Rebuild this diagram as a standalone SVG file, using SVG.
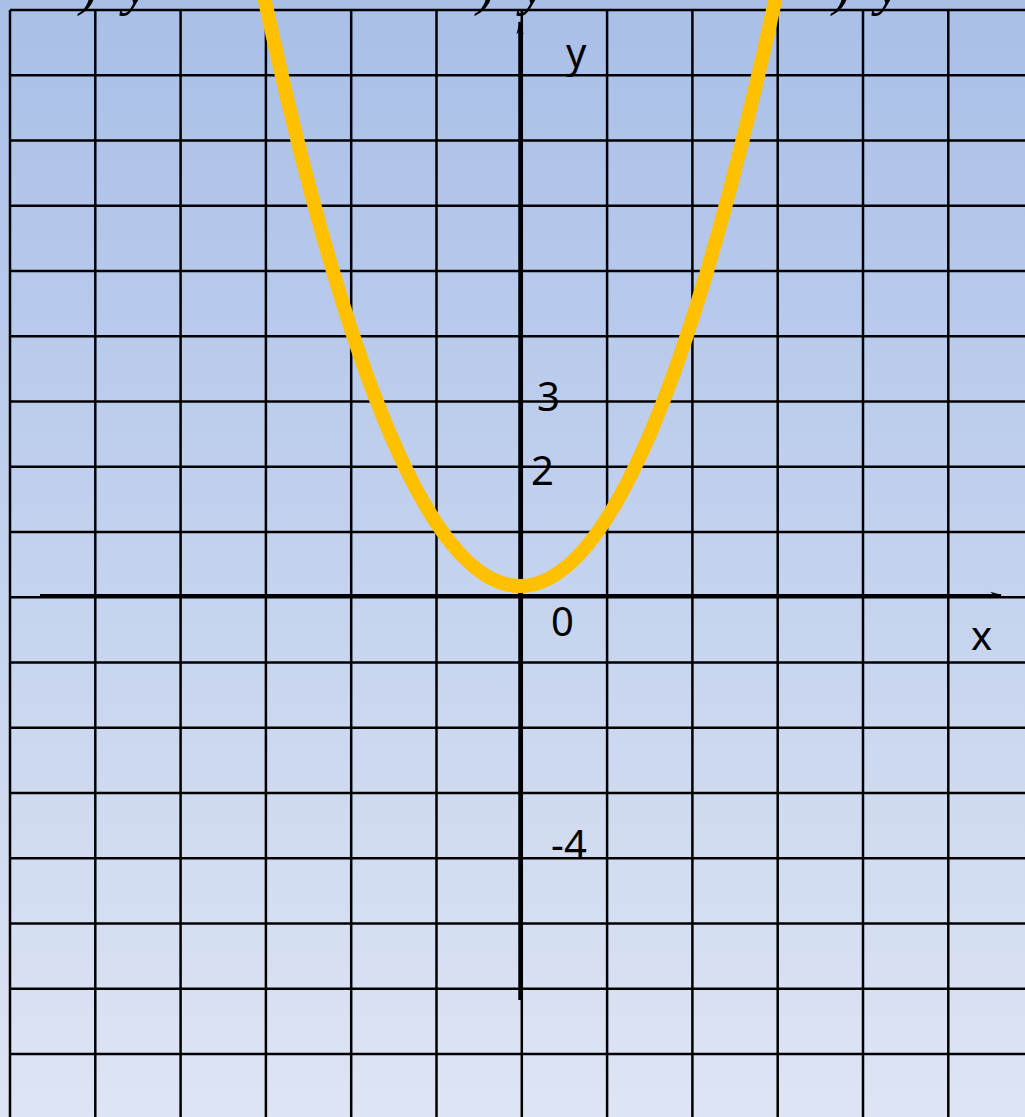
<svg xmlns="http://www.w3.org/2000/svg" width="1025" height="1117" viewBox="0 0 1025 1117">
<defs>
<linearGradient id="bg" x1="0" y1="0" x2="0" y2="1">
<stop offset="0" stop-color="#A9BFE8"/>
<stop offset="1" stop-color="#DEE5F4"/>
</linearGradient>
<marker id="arr" viewBox="0 0 10 10" refX="9" refY="5" markerWidth="12" markerHeight="8" orient="auto" markerUnits="userSpaceOnUse" preserveAspectRatio="none">
<path d="M0,1 L10,5 L0,9 L3,5 Z" fill="#000"/>
</marker>
<marker id="arrY" viewBox="0 0 10 10" refX="9" refY="5" markerWidth="14" markerHeight="9" orient="auto" markerUnits="userSpaceOnUse" preserveAspectRatio="none">
<path d="M0,1 L10,5 L0,9 L3,5 Z" fill="#000"/>
</marker>
</defs>
<style>
.g{stroke:#000;stroke-width:2.5;fill:none}
.lbl{font-family:"Noto Sans","Open Sans",sans-serif;font-size:40px;fill:#000}
.frag{font-family:"Liberation Serif",serif;font-style:italic;font-size:56px;fill:#000}
</style>
<rect x="0" y="0" width="1025" height="1117" fill="url(#bg)"/>
<g id="grid" class="g">
<path d="M10,10V1117M95.3,10V1117M180.6,10V1117M265.9,10V1117M351.2,10V1117M436.5,10V1117M521.8,10V1117M607.1,10V1117M692.4,10V1117M777.7,10V1117M863,10V1117M948.3,10V1117"/>
<path d="M10,10H1025M10,75.25H1025M10,140.5H1025M10,205.75H1025M10,271H1025M10,336.25H1025M10,401.5H1025M10,466.75H1025M10,532H1025M10,597.25H1025M10,662.5H1025M10,727.75H1025M10,793H1025M10,858.25H1025M10,923.5H1025M10,988.75H1025M10,1054H1025"/>
</g>
<g id="fragments">
<text class="frag" x="80" y="4">)</text>
<text class="frag" x="124" y="4">y</text>
<text class="frag" x="477" y="4">)</text>
<text class="frag" x="521" y="4">y</text>
<text class="frag" x="833" y="4">)</text>
<text class="frag" x="876" y="4">y</text>
</g>
<g id="axes">
<line id="x-axis" x1="40" y1="595" x2="1001" y2="595" stroke="#000" stroke-width="2" marker-end="url(#arr)"/>
<line id="y-axis" x1="520" y1="1000" x2="520" y2="22" stroke="#000" stroke-width="3.5" marker-end="url(#arrY)"/>
</g>
<g id="parabola">
<path d="M260.5,-20 Q520,1192 779.5,-20" fill="none" stroke="#FFC000" stroke-width="14"/>
</g>
<g id="labels">
<text class="lbl" x="566" y="67">y</text>
<text class="lbl" x="537" y="411">3</text>
<text class="lbl" x="531" y="485">2</text>
<text class="lbl" x="551" y="636">0</text>
<text class="lbl" x="971" y="650">x</text>
<text class="lbl" x="551" y="859">-4</text>
</g>
</svg>
